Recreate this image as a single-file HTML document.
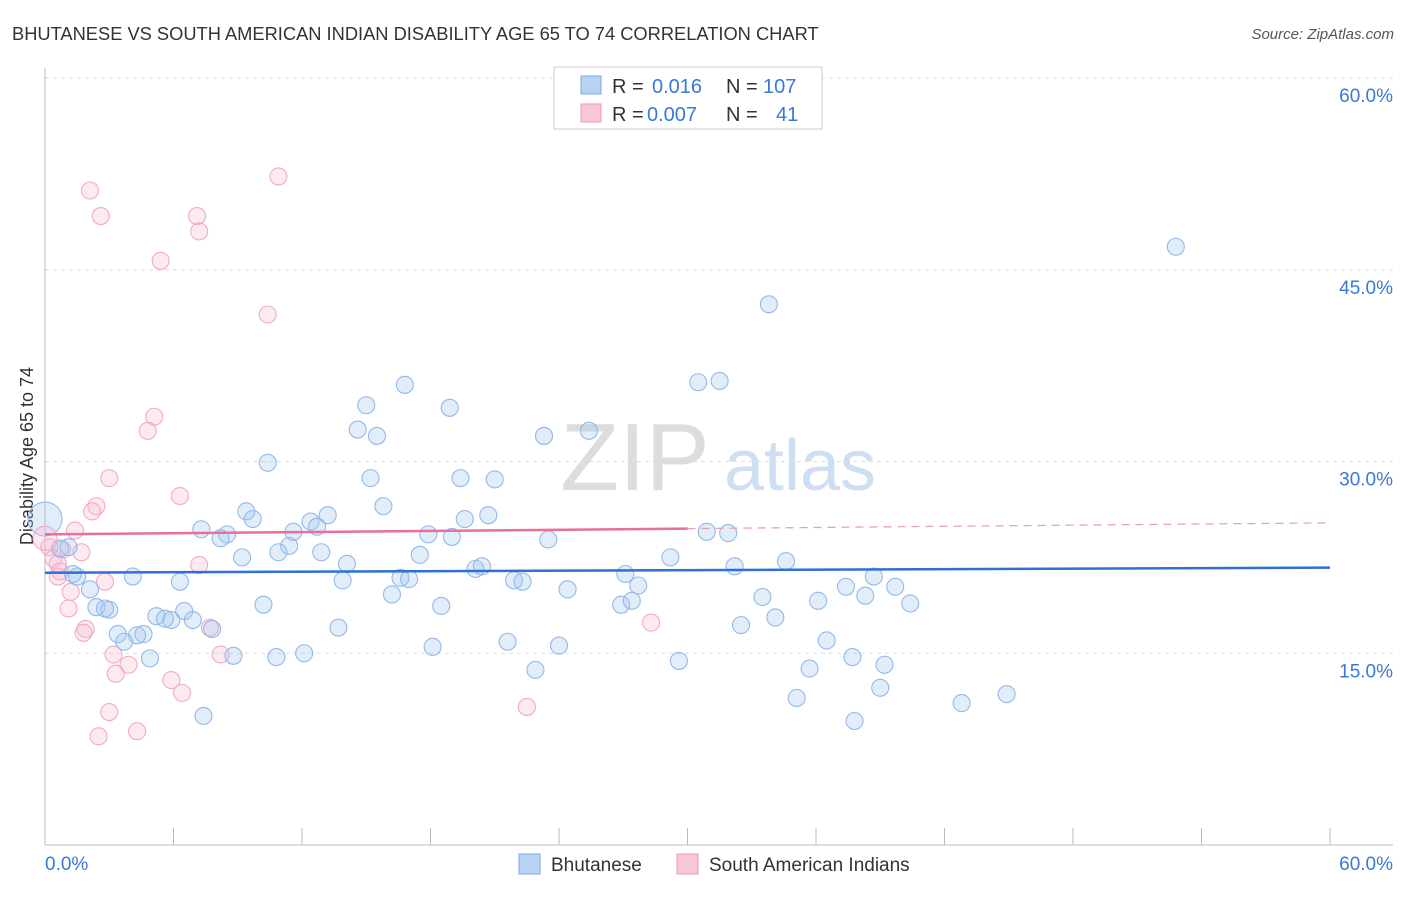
<!DOCTYPE html>
<html><head><meta charset="utf-8">
<style>
body{margin:0;background:#fff;font-family:"Liberation Sans",sans-serif;}
svg text{font-family:"Liberation Sans",sans-serif;}
</style></head>
<body>
<svg id="chart" width="1406" height="892" xmlns="http://www.w3.org/2000/svg">
<text x="12" y="40" font-size="18.3" fill="#333">BHUTANESE VS SOUTH AMERICAN INDIAN DISABILITY AGE 65 TO 74 CORRELATION CHART</text>
<text x="1394" y="39" font-size="15" fill="#555" font-style="italic" text-anchor="end">Source: ZipAtlas.com</text>
<text x="33" y="456" font-size="18" fill="#333" text-anchor="middle" transform="rotate(-90 33 456)">Disability Age 65 to 74</text>
<g>
<text x="635" y="490" font-size="96" fill="#ddd" font-family="Liberation Serif" text-anchor="middle">ZIP</text>
<text x="800" y="490" font-size="72" fill="#cfdff2" text-anchor="middle">atlas</text>
</g>
<g id="grid"></g>
<g id="axes"></g>
<g id="marks"></g>
<g>
<rect x="554" y="67" width="268" height="62" fill="#fff" stroke="#ccc"/>
<rect x="581" y="76" width="20" height="18" fill="#b8d2f4" stroke="#7aa9e6"/>
<rect x="581" y="104" width="20" height="18" fill="#f9c6d6" stroke="#ee9ab7"/>
<text y="93" font-size="20" fill="#333"><tspan x="612">R =</tspan><tspan x="652" fill="#3a78d8">0.016</tspan><tspan x="726">N =</tspan><tspan x="763" fill="#3a78d8">107</tspan></text>
<text y="121" font-size="20" fill="#333"><tspan x="612">R =</tspan><tspan x="647" fill="#3a78d8">0.007</tspan><tspan x="726">N =</tspan><tspan x="776" fill="#3a78d8">41</tspan></text>
</g>
<g>
<rect x="519" y="854" width="21" height="20" fill="#b8d2f4" stroke="#7aa9e6"/>
<text x="551" y="871" font-size="19" fill="#333">Bhutanese</text>
<rect x="677" y="854" width="21" height="20" fill="#f9c6d6" stroke="#ee9ab7"/>
<text x="709" y="871" font-size="19" fill="#333">South American Indians</text>
</g>
</svg>
<script>
const yTicks=[15,30,45,60];
const yTickLabels=["15.0%","30.0%","45.0%","60.0%"];
const xTickLabels=["0.0%","60.0%"];
const blueX=[52.8,33.8,16.8,30.5,31.5,15.0,18.9,14.6,15.5,23.3,25.4,10.4,15.2,19.4,21.0,15.8,9.4,9.7,13.2,12.4,12.7,19.6,20.7,7.3,8.5,8.2,11.6,17.9,19.0,30.9,31.9,23.5,11.4,10.9,12.9,17.5,9.2,14.1,20.1,20.4,29.2,34.6,32.2,27.1,38.7,4.1,1.5,6.3,13.9,16.6,17.0,21.9,22.3,27.7,37.4,39.7,24.4,2.1,16.2,38.3,10.2,18.5,26.9,27.4,36.1,33.5,40.4,2.4,3.0,2.8,5.2,6.5,5.9,6.9,5.6,32.5,34.1,7.8,13.7,3.4,4.6,4.3,3.7,21.6,36.5,24.0,18.1,12.1,10.8,8.8,4.9,37.7,29.6,39.2,35.7,22.9,44.9,39.0,35.1,42.8,37.8,7.4,0.7,1.1,1.3];
const blueY=[46.8,42.3,36.0,36.2,36.3,34.4,34.2,32.5,32.0,32.0,32.4,29.9,28.7,28.7,28.6,26.5,26.1,25.5,25.8,25.3,24.9,25.5,25.8,24.7,24.3,24.0,24.5,24.3,24.1,24.5,24.4,23.9,23.4,22.9,22.9,22.7,22.5,22.0,21.6,21.8,22.5,22.2,21.8,21.2,21.0,21.0,21.0,20.6,20.7,20.9,20.8,20.7,20.6,20.3,20.2,20.2,20.0,20.0,19.6,19.5,18.8,18.7,18.8,19.1,19.1,19.4,18.9,18.6,18.4,18.5,17.9,18.3,17.6,17.6,17.7,17.2,17.8,16.9,17.0,16.5,16.5,16.4,15.9,15.9,16.0,15.6,15.5,15.0,14.7,14.8,14.6,14.7,14.4,14.1,13.8,13.7,11.8,12.3,11.5,11.1,9.7,10.1,23.2,23.3,21.2];
const pinkX=[2.1,2.6,10.9,7.1,7.2,5.4,10.4,5.1,4.8,3.0,6.3,2.4,2.2,1.4,0.2,0.8,1.7,0.4,0.7,0.6,2.8,1.2,1.1,1.9,1.8,7.7,28.3,3.2,8.2,3.9,3.3,5.9,6.4,7.2,3.0,2.5,4.3,22.5,0.6];
const pinkY=[51.2,49.2,52.3,49.2,48.0,45.7,41.5,33.5,32.4,28.7,27.3,26.5,26.1,24.6,23.3,23.1,22.9,22.4,21.4,21.0,20.6,19.8,18.5,16.9,16.6,17.0,17.4,14.9,14.9,14.1,13.4,12.9,11.9,21.9,10.4,8.5,8.9,10.8,22.0];
const bigBlue=[0,25.5];
const bigPink=[0,24.0];
const blueTrend=[21.3,21.7];
const pinkTrend=[24.3,25.2];
const NS="http://www.w3.org/2000/svg";
const X0=45,X1=1330,Y0=845,Y60=78;
function sx(v){return X0+(X1-X0)*v/60;}
function sy(v){return Y0-(Y0-Y60)*v/60;}
function mk(tag,attrs,parent){const e=document.createElementNS(NS,tag);for(const k in attrs)e.setAttribute(k,attrs[k]);parent.appendChild(e);return e;}
const grid=document.getElementById('grid'),axes=document.getElementById('axes'),marks=document.getElementById('marks');
yTicks.forEach((t,i)=>{
 const l=mk('line',{x1:45,x2:1393,y1:sy(t),y2:sy(t),stroke:'#ddd','stroke-dasharray':'4,4'},grid);
 
 
 const tx=mk('text',{x:1393,y:sy(t)+24,'font-size':19,fill:'#3a78d8','text-anchor':'end'},axes);
 tx.textContent=yTickLabels[i];
 
 
});
const ax=mk('line',{x1:45,x2:1393,y1:Y0,y2:Y0,stroke:'#bbb'},axes);


const ay=mk('line',{x1:45,x2:45,y1:68,y2:Y0,stroke:'#bbb'},axes);


for(let i=0;i<=10;i++){
 const t=mk('line',{x1:sx(i*6),x2:sx(i*6),y1:828,y2:Y0,stroke:'#bbb'},axes);
 
 
}
[[0,'start',45],[60,'end',1393]].forEach((d,i)=>{
 const t=mk('text',{x:d[2],y:870,'font-size':19,fill:'#3a78d8','text-anchor':d[1]},axes);
 t.textContent=xTickLabels[i];
 
 
});
function dot(x,y,r,c,name){
 const e=mk('circle',{cx:sx(x),cy:sy(y),r:r,fill:c[0],stroke:c[1],'stroke-width':1.1},marks);
 
 
}
const BC=['rgba(160,196,240,0.3)','#93b9ea'],PC=['rgba(248,185,208,0.3)','#f0abc3'];
pinkX.forEach((x,i)=>dot(x,pinkY[i],8.5,PC,'south-american-point'));
blueX.forEach((x,i)=>dot(x,blueY[i],8.5,BC,'bhutanese-point'));
dot(bigBlue[0],bigBlue[1],17,BC,'bhutanese-point-large');
dot(bigPink[0],bigPink[1],12,PC,'south-american-point-large');
const bl=mk('line',{x1:sx(0),y1:sy(blueTrend[0]),x2:sx(60),y2:sy(blueTrend[1]),stroke:'#2f6fd6','stroke-width':2.5},marks);


const pm=pinkTrend[0]+(pinkTrend[1]-pinkTrend[0])*0.5;
const pl=mk('line',{x1:sx(0),y1:sy(pinkTrend[0]),x2:sx(30),y2:sy(pm),stroke:'#e8709a','stroke-width':2.5},marks);


const pd=mk('line',{x1:sx(30),y1:sy(pm),x2:sx(60),y2:sy(pinkTrend[1]),stroke:'#e8a0b8','stroke-width':1.3,'stroke-dasharray':'8,6'},marks);


</script>
</body></html>
